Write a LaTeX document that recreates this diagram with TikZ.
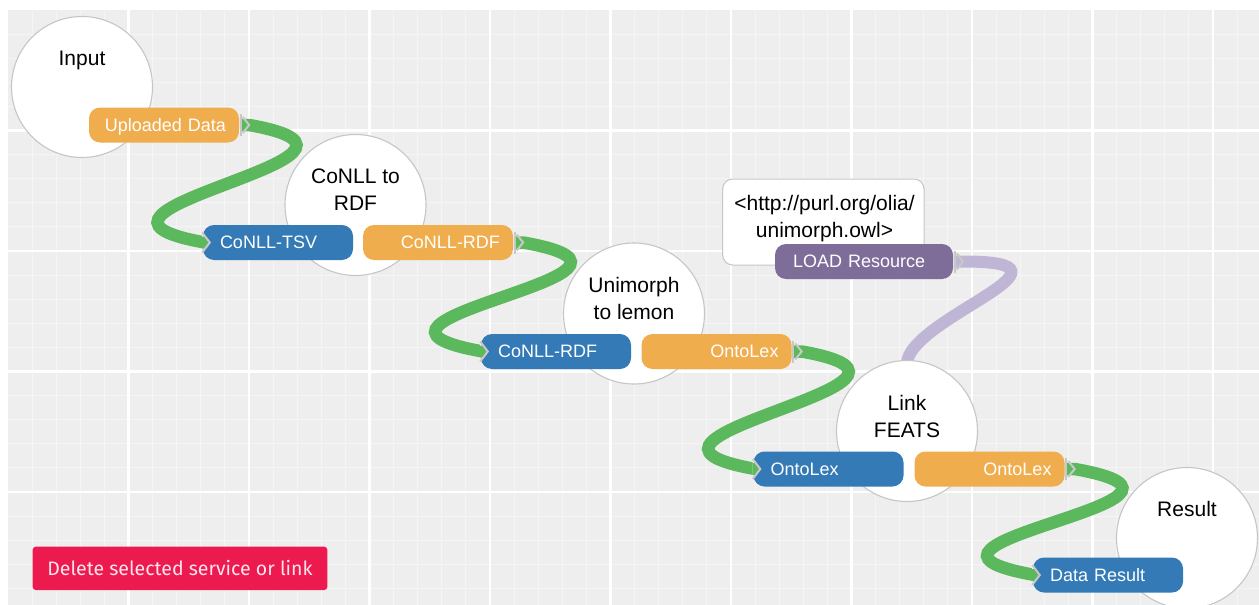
\documentclass[tikz,border=0pt]{standalone}
\usepackage{fontspec}
\setmainfont{Liberation Sans}
\newfontfamily\btnfamily{Fira Sans}
\usetikzlibrary{calc}
\definecolor{bgc}{HTML}{EEEEEE}
\definecolor{minorc}{HTML}{F5F5F5}
\definecolor{orac}{HTML}{F0AD4E}
\definecolor{bluc}{HTML}{337AB7}
\definecolor{grnc}{HTML}{5CB85C}
\definecolor{purc}{HTML}{7E6D98}
\definecolor{lpurc}{HTML}{BFB5D5}
\definecolor{circc}{HTML}{C6C6C6}
\definecolor{btnc}{HTML}{EC1A4F}
\definecolor{btntxt}{HTML}{FFE4EB}
\definecolor{portc}{HTML}{C8C8C8}
\newcommand\ttlfont{\fontsize{21}{27}\selectfont}
\newcommand\pillfont{\fontsize{18}{21}\selectfont}
\pgfdeclarelayer{gridlayer}
\pgfdeclarelayer{linklayer}
\pgfsetlayers{gridlayer,linklayer,main}
\tikzset{
  outport/.pic={
    \draw[portc, line width=2pt] (1.5,-11) -- (1.5,11);
    \draw[portc, line width=2pt] (3.5,-8) -- (10,0) -- (3.5,8);
  },
  notch/.pic={
    \fill[bgc] (-0.6,-10) -- (7,0) -- (-0.6,10) -- cycle;
    \fill[grnc] (-0.6,-6) -- (2.5,-6) -- (7,0) -- (2.5,6) -- (-0.6,6) -- cycle;
    \draw[portc, line width=2pt] (-0.6,-10) -- (7,0) -- (-0.6,10);
  },
  svc/.style={circle, fill=white, draw=circc, line width=1.1pt, minimum size=141pt, inner sep=0pt},
  ttl/.style={font=\ttlfont, align=center, inner sep=0pt},
  ttlone/.style={ttl, text height=15pt, text depth=0pt},
  pillbase/.style={rectangle, rounded corners=11pt, minimum height=35pt, text=white, font=\pillfont, inner ysep=0pt, text height=12.9pt, text depth=0pt},
  outpill/.style={pillbase, fill=orac, text width=124pt, align=right, inner xsep=13pt},
  inpill/.style={pillbase, fill=bluc, text width=116pt, align=left, inner xsep=17pt},
  loadpill/.style={pillbase, fill=purc, text width=142pt, align=left, inner xsep=18pt},
  urlbox/.style={rectangle, rounded corners=10pt, fill=white, draw=circc, line width=1pt, minimum width=201.3pt, minimum height=86pt, inner sep=0pt},
  btnbox/.style={rectangle, rounded corners=3pt, fill=btnc, text=btntxt, minimum width=294.6pt, minimum height=43.3pt, inner sep=0pt, font=\btnfamily\fontsize{19.5}{22}\selectfont},
  glink/.style={grnc, line width=12.5pt},
  plink/.style={lpurc, line width=12pt}
}
\begin{document}
\begin{tikzpicture}[x=1pt,y=-1pt]
\useasboundingbox (0,0) rectangle (1259,605);
\begin{pgfonlayer}{gridlayer}
  \fill[white] (0,0) rectangle (1259,605);
  \fill[bgc] (8,10) rectangle (1259,605);
  \foreach \i in {1,...,51} \draw[minorc, line width=1pt] ({8+24.1*\i},10) -- ({8+24.1*\i},605);
  \foreach \j in {1,...,24} \draw[minorc, line width=1pt] (8,{10+24.1*\j}) -- (1259,{10+24.1*\j});
  \foreach \i in {1,...,10} \draw[white, line width=2.5pt] ({8+120.5*\i},10) -- ({8+120.5*\i},605);
  \foreach \j in {1,...,4} \draw[white, line width=2.5pt] (8,{10+120.5*\j}) -- (1259,{10+120.5*\j});
\end{pgfonlayer}

% services
\node[svc] (cin) at (82,87) {};
\node[svc] (crdf) at (355.5,205) {};
\node[svc] (cuni) at (634,313.5) {};
\node[svc] (clink) at (907,431) {};
\node[svc] (cres) at (1187,538) {};
\node[ttlone] (cin-t) at (82,58) {Input};
\node[ttl] (crdf-t) at (355.5,190) {CoNLL to\\RDF};
\node[ttl] (cuni-t) at (634,298.5) {Unimorph\\to lemon};
\node[ttl] (clink-t) at (907,416) {Link\\FEATS};
\node[ttlone] (cres-t) at (1187,508.5) {Result};

% resource
\node[urlbox] (url) at (823.35,222) {};
\node[ttl] (url-t) at (824.5,219) {<http://purl.org/olia/\\unimorph.owl>};

% pills
\node[outpill] (up) at (164,125) {Uploaded Data};
\node[inpill] (tsv) at (278,242.5) {CoNLL-TSV};
\node[outpill] (rdfo) at (438,242.5) {CoNLL-RDF};
\node[inpill] (rdfi) at (556,351.5) {CoNLL-RDF};
\node[outpill] (olo1) at (716.5,351.5) {OntoLex};
\node[inpill] (oli) at (828.5,469) {OntoLex};
\node[outpill] (olo2) at (989.5,469) {OntoLex};
\node[inpill] (dres) at (1108,575) {Data Result};
\node[loadpill] (load) at (864,261.5) {LOAD Resource};

% ports
\pic at (up.east) {outport};
\pic at (rdfo.east) {outport};
\pic at (olo1.east) {outport};
\pic at (olo2.east) {outport};
\pic at (load.east) {outport};
\pic at (tsv.west) {notch};
\pic at (rdfi.west) {notch};
\pic at (oli.west) {notch};
\pic at (dres.west) {notch};

% button
\node[btnbox] (del) at (180,568.35) {Delete selected service or link};

% links
\begin{pgfonlayer}{linklayer}
  \draw[glink] ($(up.east)+(2,0)$) -- ++(8,0) .. controls +(180,32) and +(-180,-32) .. ($(tsv.west)+(2,0)$);
  \draw[glink] ($(rdfo.east)+(2,0)$) -- ++(8,0) .. controls +(180,32) and +(-180,-32) .. ($(rdfi.west)+(2,0)$);
  \draw[glink] ($(olo1.east)+(2,0)$) -- ++(8,0) .. controls +(180,32) and +(-180,-32) .. ($(oli.west)+(2,0)$);
  \draw[glink] ($(olo2.east)+(2,0)$) -- ++(8,0) .. controls +(180,32) and +(-180,-32) .. ($(dres.west)+(2,0)$);
  \draw[plink] ($(load.east)+(2,0)$) -- ++(8,0) .. controls +(135,0) and +(0,-45) .. ($(clink.north)+(0,4)$);
\end{pgfonlayer}
\end{tikzpicture}
\end{document}
